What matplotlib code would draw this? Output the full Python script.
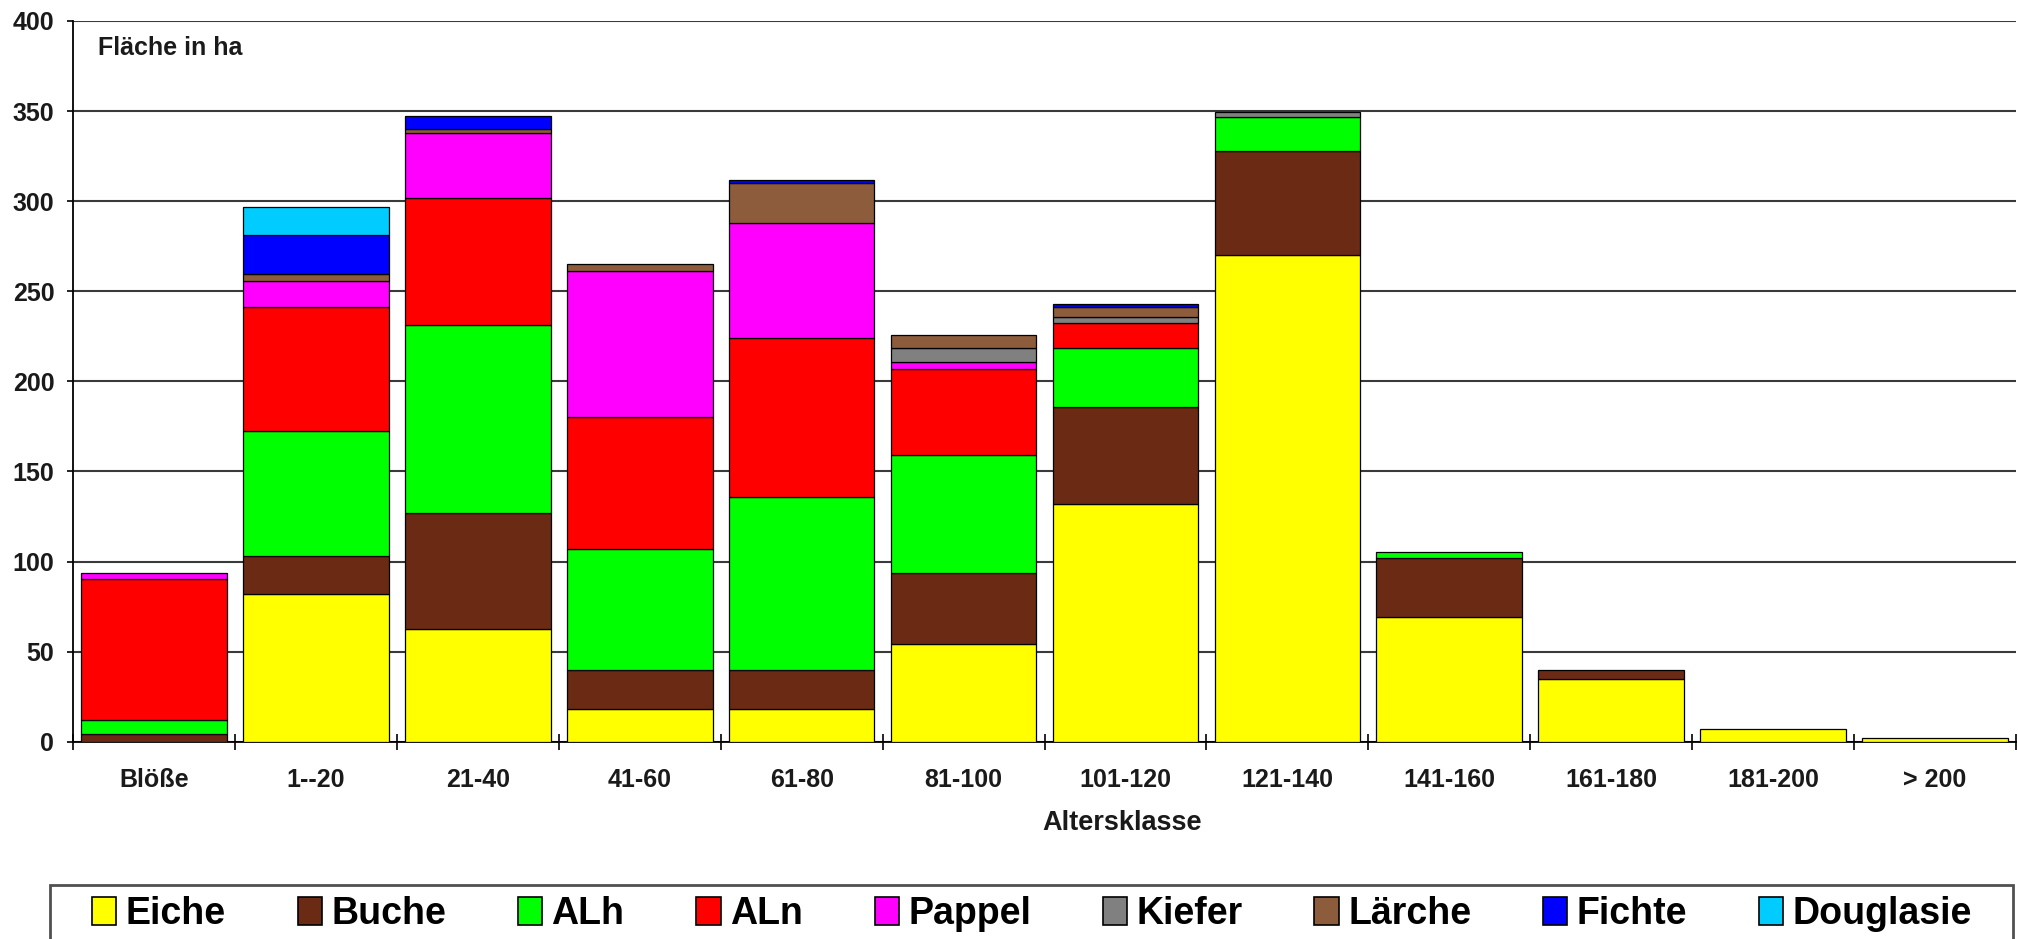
import numpy as np
import matplotlib
matplotlib.use("Agg")
import matplotlib.pyplot as plt
from matplotlib.patches import Rectangle, Patch

plt.rcParams['font.family'] = ['Liberation Sans', 'DejaVu Sans']

categories = ["Blöße", "1--20", "21-40", "41-60", "61-80", "81-100",
              "101-120", "121-140", "141-160", "161-180", "181-200", "> 200"]

eiche     = [0, 82, 62.5, 18, 18, 54, 132, 270, 69, 35, 7, 2]
buche     = [4, 21, 64.5, 22, 22, 39.5, 54, 58, 33, 5, 0, 0]
alh       = [8, 69.5, 104, 67, 96, 65.5, 32.5, 18.5, 3.5, 0, 0, 0]
aln       = [78.5, 69, 71, 73, 88, 48, 14, 0, 0, 0, 0, 0]
pappel    = [3, 14, 36, 81, 64, 3.5, 0, 0, 0, 0, 0, 0]
kiefer    = [0, 0, 0, 0, 0, 8, 3, 3, 0, 0, 0, 0]
laerche   = [0, 4, 2, 4, 22, 7, 6, 0, 0, 0, 0, 0]
fichte    = [0, 22, 7, 0, 2, 0, 1.5, 0, 0, 0, 0, 0]
douglasie = [0, 15, 0, 0, 0, 0, 0, 0, 0, 0, 0, 0]

series_names = ["Eiche", "Buche", "ALh", "ALn", "Pappel", "Kiefer", "Lärche", "Fichte", "Douglasie"]
series_values = [eiche, buche, alh, aln, pappel, kiefer, laerche, fichte, douglasie]
series_colors = ["#FFFF00", "#6B2A14", "#00FF00", "#FF0000", "#FF00FF",
                 "#808080", "#8C5C3C", "#0000FF", "#00CCFF"]

yticks = [0, 50, 100, 150, 200, 250, 300, 350, 400]

W, H = 2018, 939
fig = plt.figure(figsize=(W / 100, H / 100), dpi=100)
ax = fig.add_axes([73 / W, 1 - 741.7 / H, (2016 - 73) / W, (741.7 - 21) / H])

x = np.arange(len(categories))
bottom = np.zeros(len(categories))
for name, vals, col in zip(series_names, series_values, series_colors):
    v = np.array(vals, dtype=float)
    mask = v > 0
    ax.bar(x[mask], v[mask], bottom=bottom[mask], width=0.9, color=col,
           edgecolor="black", linewidth=0.9, zorder=3)
    bottom += v

ax.set_xlim(-0.5, len(categories) - 0.5)
ax.set_ylim(0, 400)
ax.set_yticks(yticks)
ax.set_yticklabels([str(t) for t in yticks], fontsize=18, fontweight="bold", color="#1a1a1a")
ax.yaxis.grid(True, color="#3a3a3a", linewidth=1.5, zorder=0)
ax.set_axisbelow(True)
ax.tick_params(axis="y", direction="out", length=4.5, width=1.2, pad=9)

ax.set_xticks(np.arange(-0.5, len(categories)), minor=False)
ax.set_xticklabels([])
ax.set_xticks(x, minor=True)
ax.set_xticklabels(categories, minor=True, fontsize=18, fontweight="bold", color="#1a1a1a")
ax.tick_params(axis="x", which="major", direction="inout", length=11, width=1.2)
ax.tick_params(axis="x", which="minor", length=0, pad=19)

for s in ["top", "right"]:
    ax.spines[s].set_visible(False)
ax.spines["left"].set_linewidth(1.3)
ax.spines["bottom"].set_linewidth(1.3)

fig.text(98 / W, 1 - 48 / H, "Fläche in ha", fontsize=18, fontweight="bold",
         va="center", ha="left", color="#1a1a1a")
fig.text(1122 / W, 1 - 823 / H, "Altersklasse", fontsize=19.5, fontweight="bold",
         va="center", ha="center", color="#1a1a1a")

# legend frame
fig.patches.append(Rectangle((50 / W, -0.05), (2013 - 50) / W, (1 - 885 / H) + 0.05,
                             transform=fig.transFigure, fill=False,
                             edgecolor="#505050", linewidth=2))
handles = [Patch(facecolor=c, edgecolor="black", linewidth=1.2) for c in series_colors]
fig.legend(handles, series_names, loc="center left",
           bbox_to_anchor=(92 / W, 1 - 914 / H, (1972 - 92) / W, 0),
           mode="expand", ncol=9, frameon=False, borderpad=0, borderaxespad=0,
           handlelength=0.65, handleheight=0.8, handletextpad=0.25,
           prop={"family": ["Liberation Sans", "DejaVu Sans"], "weight": "bold", "size": 27})

fig.savefig("out.png", dpi=100)
